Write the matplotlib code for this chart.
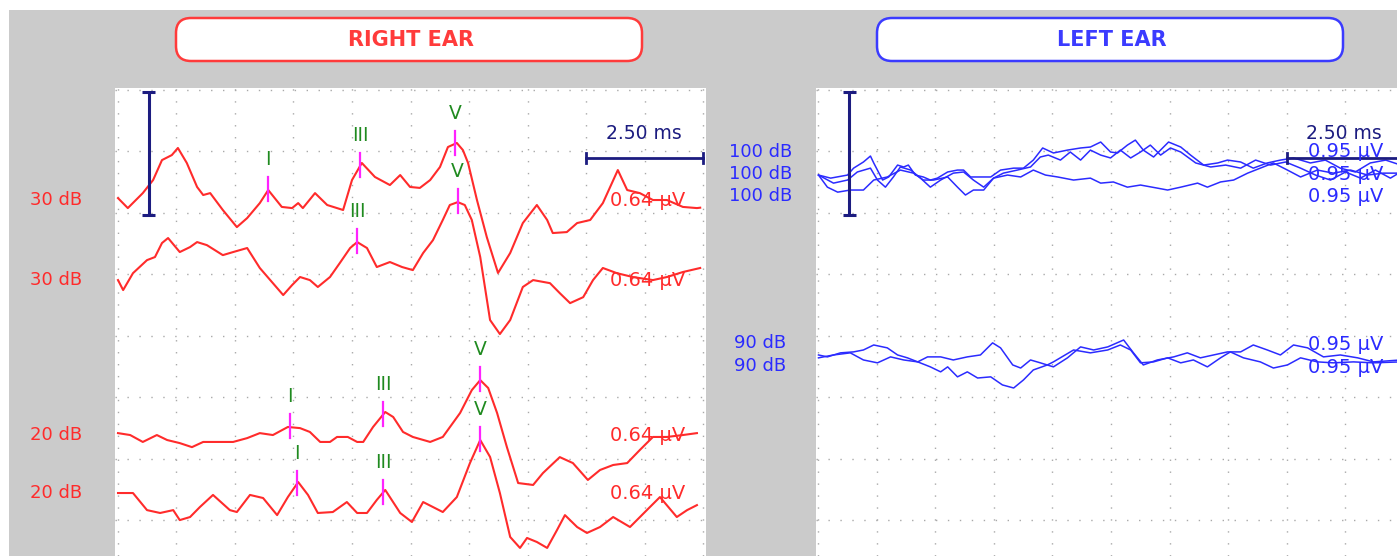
import numpy as np
import matplotlib
matplotlib.use("Agg")
import matplotlib.pyplot as plt
from matplotlib.patches import FancyBboxPatch, Rectangle

# ---------------- data ----------------
# latency in ms, amplitude in microvolt relative to each trace's own baseline
right_levels = ["30 dB", "30 dB", "20 dB", "20 dB"]
right_scale_text = "0.64 μV"

r1_t = [0.0, 0.21, 0.53, 0.75, 0.94, 1.15, 1.28, 1.47, 1.69, 1.82, 1.97, 2.24, 2.54, 2.76, 3.03, 3.21,
        3.50, 3.72, 3.85, 3.95, 4.21, 4.47, 4.81, 5.00, 5.21, 5.49, 5.81, 6.03, 6.24, 6.45, 6.67, 6.88,
        7.05, 7.24, 7.37, 7.48, 7.67, 7.88, 8.12, 8.38, 8.65, 8.95, 9.17, 9.29, 9.59, 9.81, 10.09, 10.36,
        10.68, 10.88, 11.15, 11.43, 11.73, 12.07, 12.37, 12.44]
r1_a = [0.010, -0.042, 0.036, 0.104, 0.208, 0.234, 0.271, 0.193, 0.068, 0.026, 0.036, -0.052, -0.141, -0.094, -0.016, 0.052,
        -0.036, -0.042, -0.016, -0.042, 0.036, -0.026, -0.052, 0.104, 0.193, 0.120, 0.078, 0.130, 0.068, 0.063, 0.104, 0.172,
        0.276, 0.297, 0.260, 0.193, 0.0, -0.193, -0.380, -0.276, -0.120, -0.026, -0.104, -0.172, -0.167, -0.120, -0.104, -0.016,
        0.156, 0.052, 0.036, 0.0, 0.0, -0.036, -0.042, -0.040]

r2_t = [0.0, 0.11, 0.32, 0.62, 0.79, 0.94, 1.07, 1.32, 1.54, 1.69, 1.90, 2.24, 2.46, 2.76, 3.03, 3.31,
        3.53, 3.72, 3.89, 4.10, 4.27, 4.53, 4.74, 4.96, 5.11, 5.32, 5.53, 5.81, 6.07, 6.30, 6.52, 6.73,
        6.94, 7.09, 7.26, 7.41, 7.56, 7.74, 7.95, 8.16, 8.38, 8.65, 8.87, 9.23, 9.44, 9.66, 9.94, 10.15,
        10.36, 10.66, 11.00, 11.43, 11.73, 12.07, 12.44]
r2_a = [0.0, -0.052, 0.036, 0.104, 0.120, 0.193, 0.219, 0.146, 0.172, 0.198, 0.182, 0.130, 0.146, 0.167, 0.063, -0.016,
        -0.078, -0.026, 0.016, 0.0, -0.036, 0.016, 0.089, 0.167, 0.198, 0.167, 0.068, 0.094, 0.068, 0.052, 0.141, 0.208,
        0.313, 0.391, 0.406, 0.391, 0.313, 0.120, -0.208, -0.281, -0.208, -0.036, 0.0, -0.016, -0.068, -0.120, -0.089, 0.0,
        0.063, 0.036, 0.016, 0.0, 0.016, 0.042, 0.063]

r3_t = [0.0, 0.26, 0.53, 0.83, 1.05, 1.32, 1.58, 1.82, 2.12, 2.46, 2.76, 3.03, 3.31, 3.63, 3.89, 4.10,
        4.32, 4.53, 4.68, 4.91, 5.11, 5.24, 5.45, 5.71, 5.88, 6.09, 6.30, 6.67, 6.94, 7.31, 7.56, 7.74,
        7.91, 8.10, 8.31, 8.55, 8.87, 9.08, 9.44, 9.72, 10.04, 10.30, 10.58, 10.88, 11.15, 11.43, 11.73, 12.07, 12.37]
r3_a = [0.010, 0.0, -0.036, 0.0, -0.026, -0.042, -0.063, -0.036, -0.036, -0.036, -0.016, 0.010, 0.0, 0.042, 0.036, 0.016,
        -0.036, -0.036, -0.010, -0.010, -0.036, -0.036, 0.042, 0.120, 0.094, 0.016, -0.010, -0.036, -0.010, 0.115, 0.234, 0.286,
        0.245, 0.115, -0.063, -0.250, -0.260, -0.198, -0.115, -0.146, -0.234, -0.182, -0.156, -0.146, -0.078, -0.010, -0.010, 0.0, 0.010]

r4_t = [0.0, 0.32, 0.62, 0.90, 1.18, 1.32, 1.54, 1.75, 2.03, 2.39, 2.54, 2.82, 3.10, 3.40, 3.63, 3.85,
        4.06, 4.27, 4.59, 4.89, 5.11, 5.32, 5.53, 5.71, 6.03, 6.28, 6.52, 6.94, 7.24, 7.52, 7.74, 7.95,
        8.16, 8.38, 8.59, 8.74, 8.95, 9.17, 9.38, 9.55, 9.81, 10.02, 10.30, 10.58, 10.94, 11.30, 11.58, 11.94, 12.16, 12.37]
r4_a = [0.0, 0.0, -0.089, -0.104, -0.089, -0.141, -0.125, -0.073, -0.010, -0.089, -0.099, -0.010, -0.026, -0.115, -0.021, 0.057,
        -0.010, -0.104, -0.099, -0.047, -0.104, -0.104, -0.036, 0.016, -0.104, -0.151, -0.047, -0.099, -0.021, 0.156, 0.276, 0.188,
        0.0, -0.229, -0.286, -0.234, -0.255, -0.286, -0.193, -0.115, -0.177, -0.208, -0.177, -0.125, -0.177, -0.089, -0.021, -0.125, -0.089, -0.063]

# marked peaks (wave name, latency ms)
r1_peak_names, r1_peak_lat = ["I", "III", "V"], [3.21, 5.17, 7.20]
r2_peak_names, r2_peak_lat = ["III", "V"], [5.11, 7.26]
r3_peak_names, r3_peak_lat = ["I", "III", "V"], [3.68, 5.66, 7.74]
r4_peak_names, r4_peak_lat = ["I", "III", "V"], [3.82, 5.66, 7.74]

# Left ear (blue)
left_levels = ["100 dB", "100 dB", "100 dB", "90 dB", "90 dB"]
left_scale_text = "0.95 μV"

l1_t = [0.0, 0.26, 0.62, 0.75, 0.96, 1.11, 1.18, 1.37, 1.50, 1.69, 1.82, 1.92, 2.07, 2.24, 2.39, 2.54,
        2.76, 2.97, 3.10, 3.25, 3.42, 3.68, 3.89, 4.17, 4.38, 4.59, 4.79, 5.02, 5.32, 5.60, 5.81, 6.03,
        6.24, 6.39, 6.60, 6.77, 6.94, 7.16, 7.48, 7.74, 7.95, 8.23, 8.53, 8.74, 9.02, 9.29, 9.59, 9.87,
        10.15, 10.51, 10.83, 11.15, 11.47, 11.79, 12.12, 12.44]
l1_a = [0.0, -0.016, 0.0, 0.036, 0.068, 0.099, 0.063, -0.026, -0.010, 0.052, 0.042, 0.052, 0.0, -0.010, -0.026, -0.016,
        0.016, 0.026, 0.026, -0.010, -0.010, -0.010, 0.026, 0.036, 0.036, 0.078, 0.141, 0.115, 0.130, 0.141, 0.146, 0.172,
        0.120, 0.115, 0.156, 0.182, 0.130, 0.094, 0.172, 0.146, 0.104, 0.052, 0.063, 0.078, 0.068, 0.036, 0.063, 0.078,
        0.089, 0.063, 0.078, 0.036, 0.016, 0.063, 0.078, 0.052]

l2_t = [0.0, 0.32, 0.62, 0.83, 1.11, 1.26, 1.43, 1.60, 1.75, 1.97, 2.18, 2.39, 2.61, 2.88, 3.10, 3.31,
        3.53, 3.74, 3.95, 4.25, 4.53, 4.74, 4.91, 5.17, 5.38, 5.60, 5.81, 6.03, 6.24, 6.45, 6.67, 6.88,
        7.09, 7.31, 7.52, 7.74, 8.06, 8.38, 8.70, 9.02, 9.34, 9.66, 9.98, 10.30, 10.62, 10.94, 11.26, 11.58,
        11.90, 12.22, 12.44]
l2_a = [0.0, -0.042, -0.026, 0.016, 0.036, -0.026, -0.063, -0.010, 0.042, 0.026, -0.016, -0.063, -0.026, 0.010, 0.016, -0.026,
        -0.063, -0.016, 0.010, 0.026, 0.042, 0.094, 0.104, 0.078, 0.120, 0.078, 0.130, 0.104, 0.089, 0.130, 0.089, 0.120,
        0.156, 0.104, 0.141, 0.120, 0.063, 0.042, 0.052, 0.036, 0.078, 0.052, 0.068, 0.036, 0.0, -0.026, 0.016, -0.016,
        0.026, -0.016, 0.016]

l3_t = [0.0, 0.19, 0.41, 0.68, 0.96, 1.18, 1.47, 1.75, 2.03, 2.24, 2.46, 2.76, 2.97, 3.14, 3.31, 3.53,
        3.74, 4.04, 4.32, 4.59, 4.85, 5.11, 5.45, 5.81, 6.03, 6.30, 6.60, 6.88, 7.24, 7.46, 7.74, 8.10,
        8.31, 8.59, 8.87, 9.17, 9.44, 9.72, 10.02, 10.30, 10.66, 11.00, 11.37, 11.73, 12.07, 12.44]
l3_a = [0.0, -0.063, -0.089, -0.078, -0.078, -0.026, -0.010, 0.026, 0.010, -0.026, -0.026, -0.010, -0.063, -0.104, -0.078, -0.078,
        -0.016, 0.0, -0.010, 0.026, 0.0, -0.010, -0.026, -0.016, -0.042, -0.036, -0.063, -0.052, -0.068, -0.078, -0.063, -0.042,
        -0.063, -0.036, -0.026, 0.010, 0.036, 0.063, 0.026, -0.010, 0.026, 0.010, 0.026, 0.0, 0.010, 0.010]

l4_t = [0.0, 0.19, 0.47, 0.75, 0.96, 1.18, 1.47, 1.69, 1.90, 2.12, 2.33, 2.61, 2.88, 3.18, 3.46, 3.72,
        3.89, 4.15, 4.32, 4.53, 4.74, 5.02, 5.32, 5.60, 5.88, 6.18, 6.52, 6.73, 6.94, 7.24, 7.59, 7.88,
        8.16, 8.44, 8.74, 9.02, 9.29, 9.59, 9.87, 10.15, 10.45, 10.79, 11.15, 11.52, 11.86, 12.44]
l4_a = [0.005, -0.005, 0.016, 0.021, 0.031, 0.057, 0.042, 0.005, -0.010, -0.031, -0.005, -0.005, -0.021, -0.005, 0.005, 0.068,
        0.042, -0.047, -0.063, -0.021, -0.036, -0.057, -0.010, 0.047, 0.031, 0.047, 0.083, 0.016, -0.047, -0.021, -0.005, 0.016,
        -0.010, 0.005, 0.021, 0.021, 0.057, 0.031, 0.005, 0.057, 0.042, -0.005, 0.005, -0.010, -0.031, -0.021]

l5_t = [0.0, 0.32, 0.68, 0.96, 1.26, 1.54, 1.82, 2.12, 2.39, 2.61, 2.76, 2.97, 3.18, 3.40, 3.68, 3.93,
        4.17, 4.38, 4.59, 4.89, 5.02, 5.45, 5.81, 6.18, 6.45, 6.67, 6.88, 7.16, 7.46, 7.74, 8.01, 8.31,
        8.59, 8.80, 9.08, 9.44, 9.72, 10.02, 10.30, 10.66, 11.00, 11.43, 11.86, 12.44]
l5_a = [-0.010, 0.005, 0.016, -0.021, -0.036, -0.005, -0.021, -0.031, -0.057, -0.083, -0.057, -0.109, -0.083, -0.115, -0.109, -0.151,
        -0.167, -0.125, -0.073, -0.047, -0.031, 0.031, 0.016, 0.031, 0.057, 0.031, -0.036, -0.031, -0.010, -0.036, -0.021, -0.057,
        -0.010, 0.021, -0.010, -0.031, -0.063, -0.047, -0.010, -0.031, -0.036, -0.031, -0.036, -0.031]

# ---------------- layout / style ----------------
W, H = 1397, 556
RED, BLUE = "#ff2b2b", "#2b2bff"
NAVY = "#1c1c80"
GREEN = "#1f8a1f"
MAGENTA = "#ff22ff"
GRAY = "#cbcbcb"

right_offsets = [-0.573, -0.990, -1.797, -2.099]       # baseline of each trace
left_offsets = [-0.443, -0.443, -0.443, -1.385, -1.385]
left_label_y = [-0.323, -0.4375, -0.552, -1.318, -1.4375]
left_scale_y = [-0.318, -0.4375, -0.557, -1.323, -1.443]

fig = plt.figure(figsize=(W / 100, H / 100), dpi=100)
fig.patch.set_facecolor("white")

bg = fig.add_axes([0, 0, 1, 1], zorder=-5)
bg.set_xlim(0, W)
bg.set_ylim(H, 0)
bg.axis("off")
bg.add_patch(Rectangle((9, 10), W - 9, H - 10, color=GRAY, lw=0))

for (x0, col, txt) in [(176, "#ff3b3b", "RIGHT EAR"), (877, "#3b3bff", "LEFT EAR")]:
    bg.add_patch(FancyBboxPatch((x0, 18), 466, 43,
                                boxstyle="round,pad=0,rounding_size=15",
                                facecolor="white", edgecolor=col, lw=1.8))
    bg.text(x0 + 235, 40, txt, color=col, fontsize=15, fontweight="bold",
            ha="center", va="center", family="DejaVu Sans")


def make_panel(left_px):
    ax = fig.add_axes([left_px / W, 0, 591 / W, 468 / H])
    ax.set_facecolor("white")
    ax.set_xlim(-0.064, 12.564)
    ax.set_ylim(-2.427, 0.0104)
    for s in ax.spines.values():
        s.set_visible(False)
    ax.set_xticks(np.arange(0, 12.51, 1.25))
    ax.set_yticks(np.arange(0, -2.41, -0.32))
    ax.tick_params(length=0, labelbottom=False, labelleft=False)
    ax.grid(True, color="#a9a9a9", linestyle=(0, (1, 7.6)), lw=1.0)
    ax.set_axisbelow(True)
    return ax


axR = make_panel(115)
axL = make_panel(815.5)


def scale_bars(ax):
    # amplitude bar
    xb = 0.66
    ax.plot([xb, xb], [-0.01, -0.65], color=NAVY, lw=2.2, solid_capstyle="butt", zorder=4)
    for yy in (-0.01, -0.65):
        ax.plot([xb - 0.14, xb + 0.14], [yy, yy], color=NAVY, lw=2.2, solid_capstyle="butt", zorder=4)
    # time bar 2.5 ms
    yt = -0.354
    ax.plot([10.0, 12.5], [yt, yt], color=NAVY, lw=2.0, zorder=4)
    for xx in (10.0, 12.5):
        ax.plot([xx, xx], [yt - 0.024, yt + 0.024], color=NAVY, lw=2.0, zorder=4)
    ax.text(11.23, -0.226, "2.50 ms", color=NAVY, fontsize=13.5, ha="center", va="center", zorder=5)


scale_bars(axR)
scale_bars(axL)

# right ear traces
r_t = [r1_t, r2_t, r3_t, r4_t]
r_a = [r1_a, r2_a, r3_a, r4_a]
r_pn = [r1_peak_names, r2_peak_names, r3_peak_names, r4_peak_names]
r_pl = [r1_peak_lat, r2_peak_lat, r3_peak_lat, r4_peak_lat]
for t, a, off, lvl, pn, pl in zip(r_t, r_a, right_offsets, right_levels, r_pn, r_pl):
    t = np.asarray(t)
    y = off + np.asarray(a)
    axR.plot(t, y, color=RED, lw=1.5, zorder=3)
    for name, lat in zip(pn, pl):
        yp = np.interp(lat, t, y)
        axR.plot([lat, lat], [yp - 0.057, yp + 0.068], color=MAGENTA, lw=1.6, zorder=4)
        axR.text(lat, yp + 0.158, name, color=GREEN, fontsize=13.5, ha="center", va="center", zorder=5)
    axR.text(-1.32, off, lvl, color=RED, fontsize=13, ha="center", va="center", clip_on=False)
    axR.text(11.31, off, right_scale_text, color=RED, fontsize=14, ha="center", va="center", zorder=5)

# left ear traces
l_t = [l1_t, l2_t, l3_t, l4_t, l5_t]
l_a = [l1_a, l2_a, l3_a, l4_a, l5_a]
for t, a, off, lvl, ly, sy in zip(l_t, l_a, left_offsets, left_levels, left_label_y, left_scale_y):
    axL.plot(t, off + np.asarray(a), color=BLUE, lw=1.1, zorder=3)
    axL.text(-1.24, ly, lvl, color=BLUE, fontsize=13, ha="center", va="center", clip_on=False)
    axL.text(10.45, sy, left_scale_text, color=BLUE, fontsize=14, ha="left", va="center", zorder=5)

fig.savefig("out.png", dpi=100, facecolor="white")
